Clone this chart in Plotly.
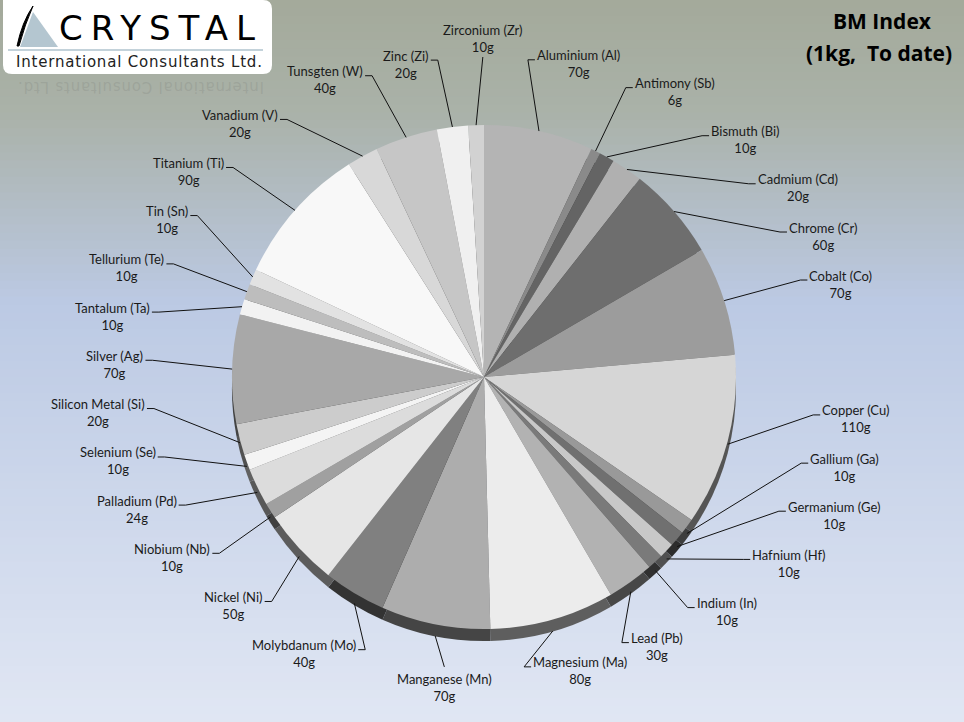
import numpy as np
import plotly.graph_objects as go

# BM Index - grams of each metal in a 1kg basket
metals = ["Aluminium", "Antimony", "Bismuth", "Cadmium", "Chrome", "Cobalt", "Copper",
          "Gallium", "Germanium", "Hafnium", "Indium", "Lead", "Magnesium", "Manganese",
          "Molybdanum", "Nickel", "Niobium", "Palladium", "Selenium", "Silicon Metal",
          "Silver", "Tantalum", "Tellurium", "Tin", "Titanium", "Vanadium", "Tunsgten",
          "Zinc", "Zirconium"]
symbols = ["Al", "Sb", "Bi", "Cd", "Cr", "Co", "Cu", "Ga", "Ge", "Hf", "In", "Pb", "Ma",
           "Mn", "Mo", "Ni", "Nb", "Pd", "Se", "Si", "Ag", "Ta", "Te", "Sn", "Ti", "V",
           "W", "Zi", "Zr"]
grams = [70, 6, 10, 20, 60, 70, 110, 10, 10, 10, 10, 30, 80, 70, 40, 50, 10, 24, 10, 20,
         70, 10, 10, 10, 90, 20, 40, 20, 10]
greys = [180, 138, 100, 176, 110, 156, 214, 153, 112, 200, 122, 178, 236, 173, 128, 230,
         160, 220, 244, 204, 168, 242, 189, 226, 248, 216, 198, 240, 210]

W, H = 964, 722
CX, CY, R = 484, 377, 252
DEPTH = 12


def px(x):
    return x / W


def py(y):
    return 1 - y / H


face = [f"rgb({g},{g},{g})" for g in greys]
side = [f"rgb({int(g * 0.4)},{int(g * 0.4)},{int(g * 0.4)})" for g in greys]

fig = go.Figure()
# darker copy shifted down gives the 3D rim
for cols, dy in [(side, DEPTH), (face, 0)]:
    fig.add_trace(go.Pie(
        values=grams, labels=metals, sort=False, direction="clockwise", rotation=0,
        marker=dict(colors=cols, line=dict(width=0)), textinfo="none",
        hoverinfo="label+value" if dy == 0 else "skip", showlegend=False,
        domain=dict(x=[px(CX - R), px(CX + R)], y=[py(CY + dy + R), py(CY + dy - R)]),
    ))

shapes = []
# background gradient
stops = [(0.0, (164, 170, 155)), (0.15, (170, 178, 168)), (0.42, (188, 202, 228)),
         (1.0, (225, 231, 244))]
nb = 90
for k in range(nb):
    t = (k + 0.5) / nb
    for (t0, c0), (t1, c1) in zip(stops[:-1], stops[1:]):
        if t0 <= t <= t1:
            f = (t - t0) / (t1 - t0)
            c = [int(a + (b - a) * f) for a, b in zip(c0, c1)]
    shapes.append(dict(type="rect", xref="paper", yref="paper", layer="below",
                       x0=0, x1=1, y0=1 - k / nb, y1=1 - (k + 1) / nb - 0.002,
                       fillcolor=f"rgb({c[0]},{c[1]},{c[2]})", line=dict(width=0)))

# logo box
x0, x1, y0, y1, r = 3, 272, 0, 74, 9
shapes.append(dict(
    type="path", xref="paper", yref="paper", fillcolor="white", line=dict(width=0),
    path=(f"M {px(x0)},{py(y0)} L {px(x1 - r)},{py(y0)} Q {px(x1)},{py(y0)} {px(x1)},{py(y0 + r)} "
          f"L {px(x1)},{py(y1 - r)} Q {px(x1)},{py(y1)} {px(x1 - r)},{py(y1)} "
          f"L {px(x0 + r)},{py(y1)} Q {px(x0)},{py(y1)} {px(x0)},{py(y1 - r)} Z")))
shapes.append(dict(type="path", xref="paper", yref="paper", fillcolor="#b4c6d0",
                   line=dict(width=0),
                   path=f"M {px(20)},{py(47)} L {px(58)},{py(47)} L {px(33)},{py(12)} Z"))
shapes.append(dict(type="path", xref="paper", yref="paper", fillcolor="black",
                   line=dict(color="black", width=1),
                   path=f"M {px(17)},{py(46)} Q {px(22)},{py(22)} {px(33)},{py(6)} "
                        f"Q {px(25)},{py(24)} {px(19)},{py(46)} Z"))
shapes.append(dict(type="line", xref="paper", yref="paper", x0=px(8), x1=px(263),
                   y0=py(50), y1=py(50), line=dict(color="#c3d2da", width=2)))

annotations = [
    dict(x=px(161), y=py(28), text='<span style="letter-spacing:8px">CRYSTAL</span>',
         font=dict(family="DejaVu Sans", size=34, color="black")),
    dict(x=px(139), y=py(62), text='<span style="letter-spacing:0.8px">International Consultants Ltd.</span>',
         font=dict(family="DejaVu Sans", size=15, color="#222222")),
    dict(x=px(141), y=py(87), text='<span style="letter-spacing:0.8px">International Consultants Ltd.</span>',
         textangle=180, font=dict(family="DejaVu Sans", size=15, color="rgba(140,146,138,0.4)")),
    dict(x=px(882), y=py(21), text="<b>BM Index</b>", font=dict(family="Open Sans", size=21, color="black")),
    dict(x=px(879), y=py(53), text="<b>(1kg,  To date)</b>", font=dict(family="Open Sans", size=21, color="black")),
]
for a in annotations:
    a.update(xref="paper", yref="paper", showarrow=False, xanchor="center", yanchor="middle")

# data labels with leader lines, spread so the label boxes do not collide
vals = np.array(grams, dtype=float)
mid = (np.cumsum(vals) - vals / 2) / vals.sum() * 360
texts = [f"{m} ({s})<br>{g}g" for m, s, g in zip(metals, symbols, grams)]
widths = [6.4 * len(f"{m} ({s})") + 2 for m, s in zip(metals, symbols)]
A, B_TOP, B_BOT, LH = 332, 320, 292, 34
VERT = 0.12


def anchor(ang):
    ph = np.radians(ang)
    b = B_TOP if np.cos(ph) > 0 else B_BOT
    return CX + A * np.sin(ph), CY - b * np.cos(ph), np.sin(ph), np.cos(ph)


def box(i, ang):
    tx, ty, s, c = anchor(ang)
    w = widths[i]
    if abs(s) < VERT:
        if c > 0:
            return tx - w / 2, tx + w / 2, ty - LH, ty
        return tx - w / 2, tx + w / 2, ty + 2, ty + 2 + LH
    if s > 0:
        return tx + 7, tx + 7 + w, ty + 4 - LH / 2, ty + 4 + LH / 2
    return tx - 7 - w, tx - 7, ty + 4 - LH / 2, ty + 4 + LH / 2


def overlap(p, q, padx=6, pady=14):
    return p[0] < q[1] + padx and q[0] < p[1] + padx and p[2] < q[3] + pady and q[2] < p[3] + pady


lab = mid.copy()
n = len(lab)
for _ in range(5000):
    moved = False
    for i in range(n):
        j = (i + 1) % n
        aj = lab[j] + (360 if j == 0 else 0)
        if overlap(box(i, lab[i]), box(j, aj)):
            lab[i] -= 0.1
            lab[j] += 0.1
            moved = True
    if not moved:
        break

lc = dict(color="#111111", width=1)
font = dict(family="Lato", size=13, color="#1a1a1a")
for i in range(n):
    th = np.radians(mid[i])
    sx = CX + R * np.sin(th)
    sy = CY - R * np.cos(th) + DEPTH * max(0, -np.cos(th))
    tx, ty, s, c = anchor(lab[i])
    shapes.append(dict(type="line", xref="paper", yref="paper", x0=px(sx), y0=py(sy),
                       x1=px(tx), y1=py(ty), line=lc))
    if abs(s) < VERT:
        annotations.append(dict(x=px(tx), y=py(ty if c > 0 else ty + 2), xref="paper",
                                yref="paper", text=texts[i], showarrow=False,
                                xanchor="center", yanchor="bottom" if c > 0 else "top",
                                align="center", font=font))
    else:
        sgn = 1 if s > 0 else -1
        ex = tx + sgn * 7
        shapes.append(dict(type="line", xref="paper", yref="paper", x0=px(tx), y0=py(ty),
                           x1=px(ex), y1=py(ty), line=lc))
        annotations.append(dict(x=px(ex), y=py(ty + 4), xref="paper", yref="paper",
                                text=texts[i], showarrow=False,
                                xanchor="left" if sgn > 0 else "right",
                                yanchor="middle", align="center", font=font))

fig.update_layout(width=W, height=H, margin=dict(l=0, r=0, t=0, b=0),
                  paper_bgcolor="#c4cfe2", shapes=shapes, annotations=annotations)
fig.write_html("out.html", config={"displayModeBar": False},
               post_script="document.body.style.margin='0';")
